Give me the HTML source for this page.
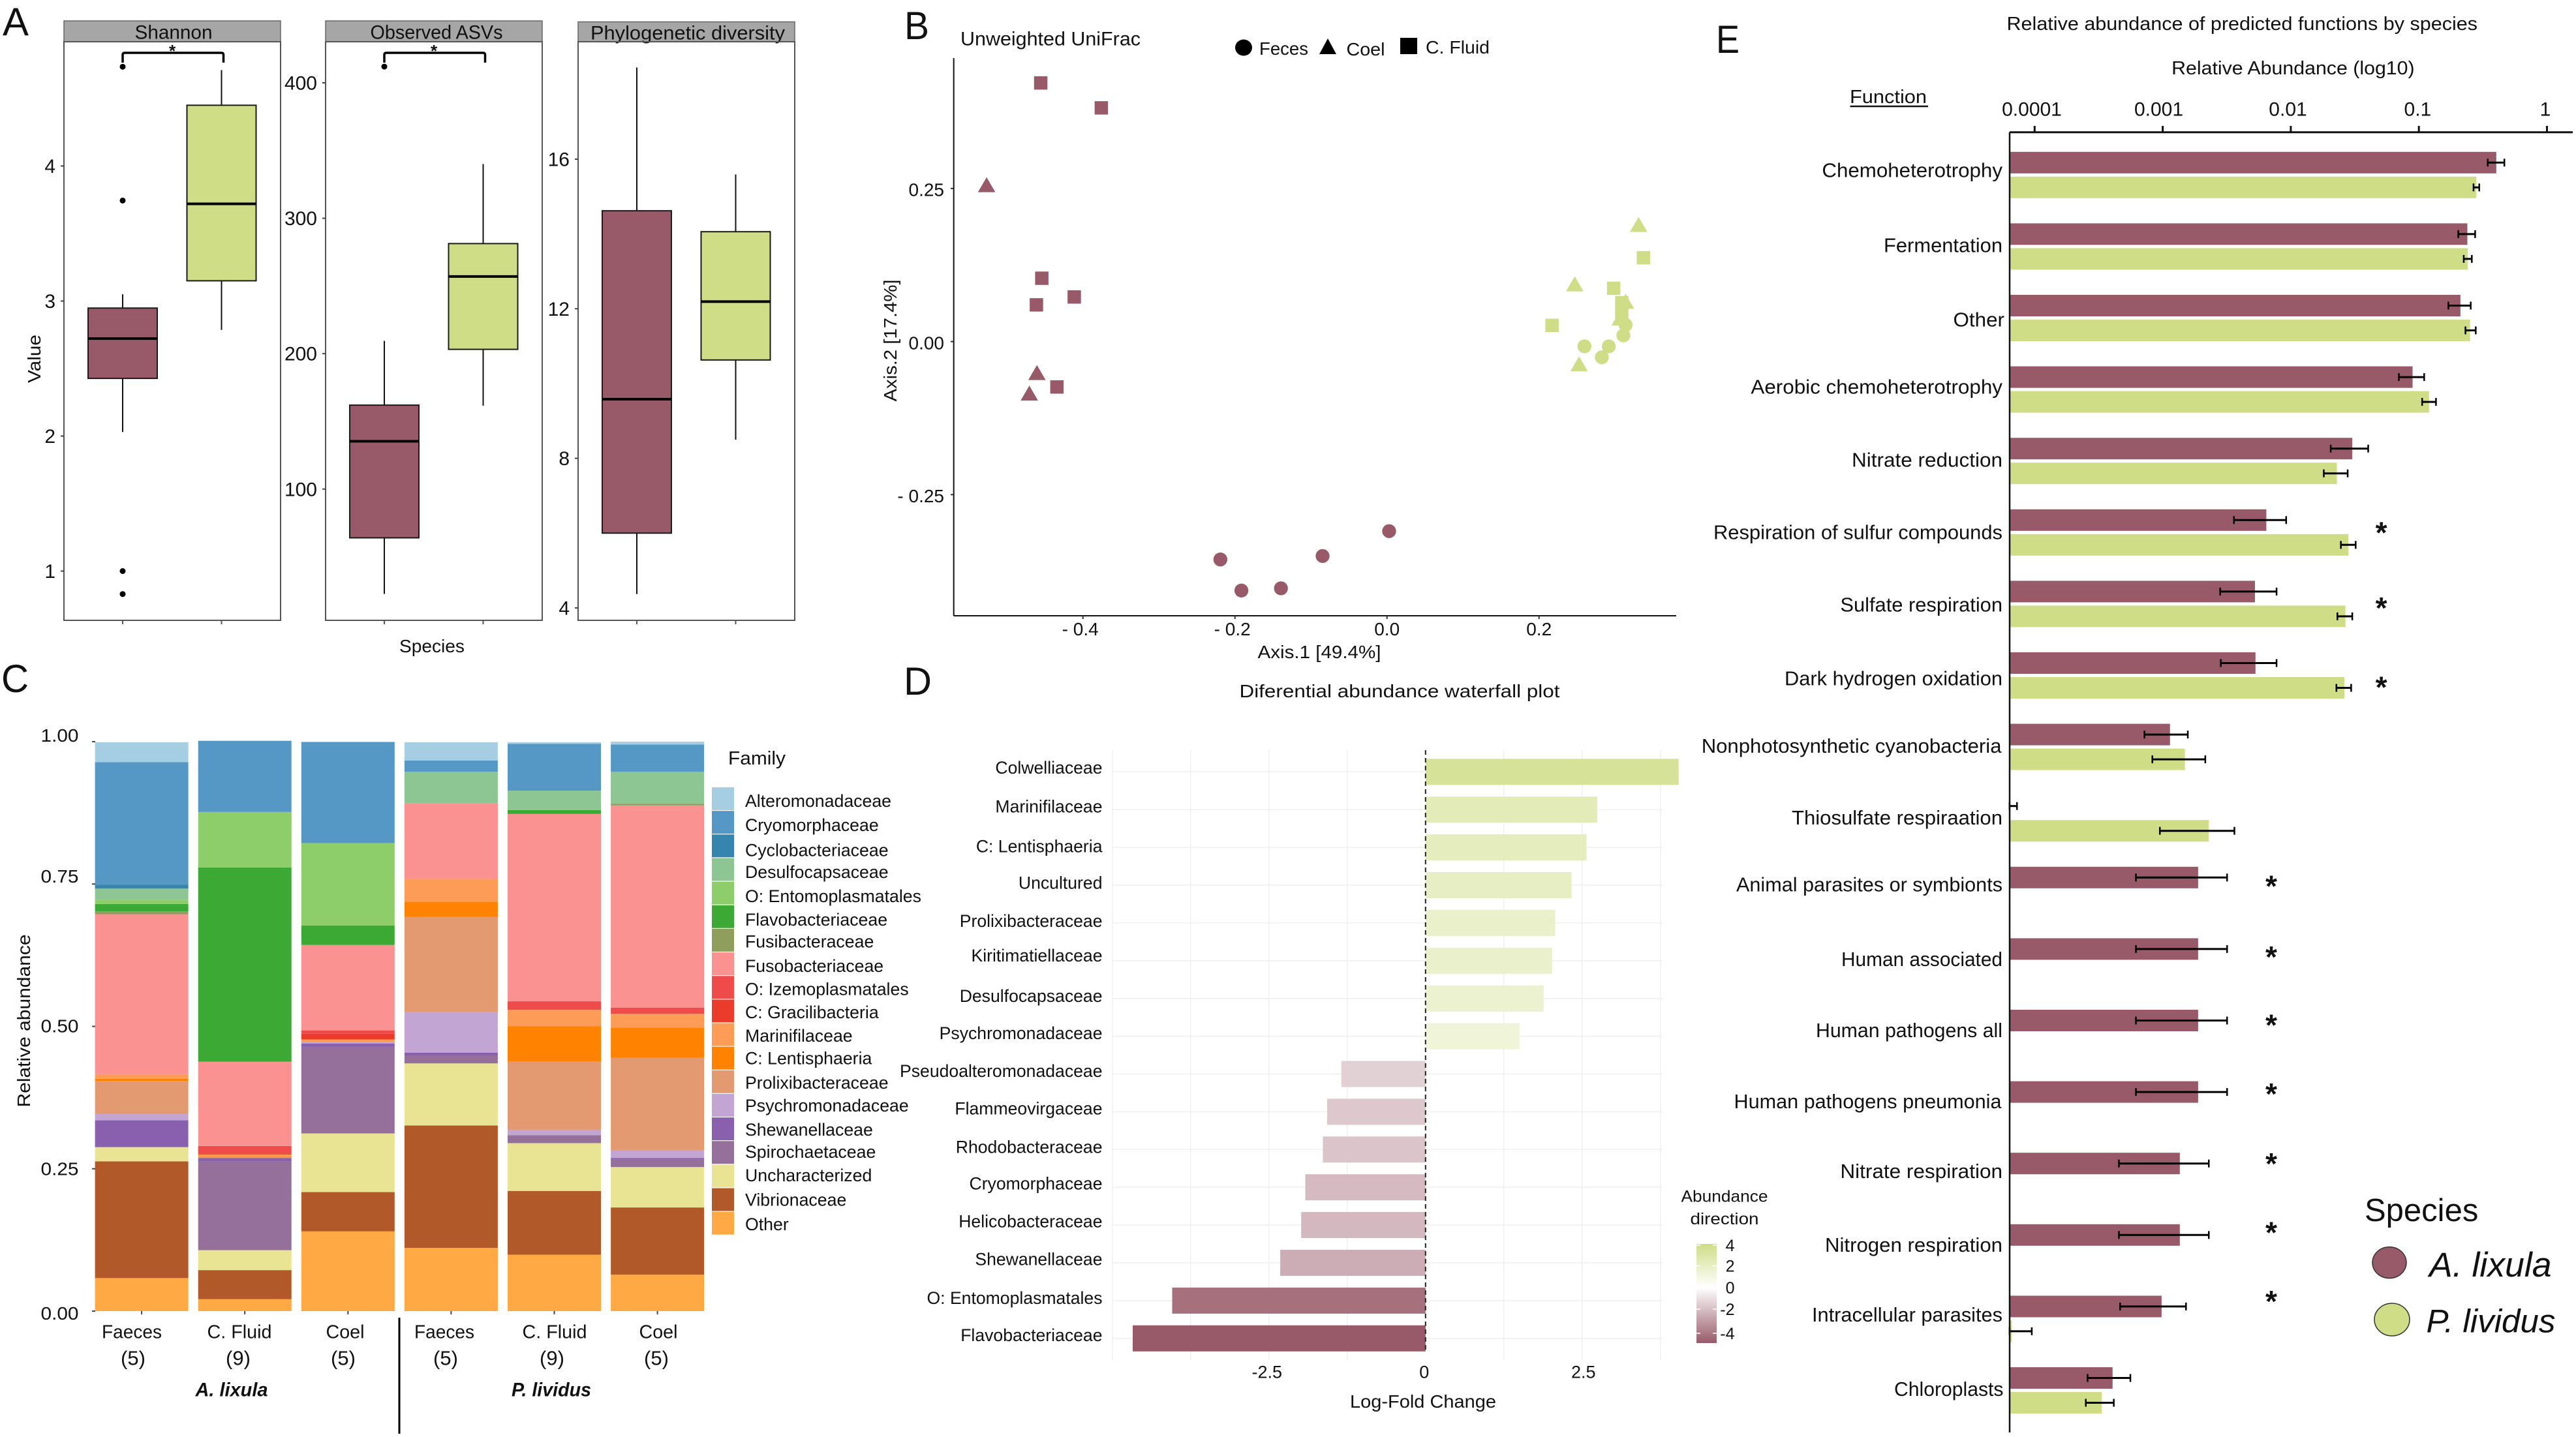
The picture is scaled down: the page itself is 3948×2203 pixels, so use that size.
<!DOCTYPE html>
<html lang="en">
<head>
<meta charset="utf-8">
<title>Microbiome composite figure</title>
<style>
html,body{margin:0;padding:0;background:#fff;}
#figure{display:block;width:3948px;height:2203px;font-family:"Liberation Sans",sans-serif;}
text{font-family:"Liberation Sans",sans-serif;fill:#111;}
</style>
</head>
<body>
<svg id="figure" xmlns="http://www.w3.org/2000/svg" width="3948" height="2203" viewBox="0 0 3948 2203">
<defs>
<linearGradient id="cbar" x1="0" y1="0" x2="0" y2="1">
<stop offset="0" stop-color="#cfdd87"/><stop offset="0.44" stop-color="#ffffff"/><stop offset="1" stop-color="#985a69"/>
</linearGradient>
</defs>
</svg>
<script>
/* ---------- Panel A data: [lower whisker, q1, median, q3, upper whisker] ---------- */
const boxStatNames = ['lowerWhisker','q1','median','q3','upperWhisker'];
const shannonLixula = [2.03,2.427,2.722,2.948,3.05];
const shannonLividus = [2.786,3.15,3.72,4.45,4.71];
const shannonOutliers = [4.735,3.744,1.0,0.83];
const asvLixula = [22.6,64,135.3,162,209.4];
const asvLividus = [161.6,203.2,257,281.3,340];
const asvOutliers = [412];
const pdLixula = [4.37,6.0,9.58,14.62,18.45];
const pdLividus = [8.5,10.63,12.19,14.06,15.59];
const pdOutliers = [];
const shannonTicks = [1,2,3,4];
const asvTicks = [100,200,300,400];
const pdTicks = [4,8,12,16];

/* ---------- Panel B data ---------- */
const lixFecesX = [0.0028,-0.0847,-0.2192,-0.1395,-0.1915];
const lixFecesY = [-0.3096,-0.3502,-0.3559,-0.403,-0.4066];
const lixCoelX = [-0.5267,-0.4605,-0.4705];
const lixCoelY = [0.2561,-0.0506,-0.0842];
const lixFluidX = [-0.4555,-0.3758,-0.4541,-0.4114,-0.4612,-0.4342];
const lixFluidY = [0.4223,0.3816,0.1034,0.0728,0.0599,-0.0742];
const livFecesX = [0.3139,0.311,0.2918,0.2598,0.2826];
const livFecesY = [0.0271,0.01,-0.0078,-0.0078,-0.0257];
const livCoelX = [0.331,0.247,0.3139,0.3068,0.2527];
const livCoelY = [0.1912,0.0942,0.0656,0.0385,-0.0364];
const livFluidX = [0.3374,0.2982,0.3089,0.3089,0.2171];
const livFluidY = [0.1369,0.087,0.0635,0.0478,0.0264];
const pcoaXTicks = [-0.4,-0.2,0.0,0.2];
const pcoaXTickLabels = ['- 0.4','- 0.2','0.0','0.2'];
const pcoaYTicks = [0.25,0,-0.25];
const pcoaYTickLabels = ['0.25','0.00','- 0.25'];

/* ---------- Panel C data (same order as families) ---------- */
const families = ['Alteromonadaceae','Cryomorphaceae','Cyclobacteriaceae','Desulfocapsaceae','O: Entomoplasmatales','Flavobacteriaceae','Fusibacteraceae','Fusobacteriaceae','O: Izemoplasmatales','C: Gracilibacteria','Marinifilaceae','C: Lentisphaeria','Prolixibacteraceae','Psychromonadaceae','Shewanellaceae','Spirochaetaceae','Uncharacterized','Vibrionaceae','Other'];
const lixFaeces = [.035,.215,.007,.020,.007,.013,.005,.281,0,0,.008,.004,.058,.011,.047,0,.025,.205,.058];
const lixCFluid = [0,.125,0,0,.0975,.341,0,.148,.013,.002,.003,.001,.002,0,.006,.156,.035,.051,.021];
const lixCoel = [0,.1775,0,0,.145,.034,0,.150,.006,.010,.005,0,0,.002,.006,.152,.103,.069,.140];
const livFaeces = [.032,.020,0,.055,0,0,0,.133,0,0,.040,.027,.167,.071,.005,.014,.109,.215,.111];
const livCFluid = [.003,.082,0,.034,0,.007,0,.329,.015,0,.029,.062,.120,.009,0,.014,.084,.112,.099];
const livCoel = [.005,.048,0,.056,0,0,.003,.355,.011,0,.024,.053,.163,.013,.003,.013,.071,.118,.064];
const stackedBars = [lixFaeces,lixCFluid,lixCoel,livFaeces,livCFluid,livCoel];
const sampleNames = ['Faeces','C. Fluid','Coel','Faeces','C. Fluid','Coel'];
const sampleCounts = ['(5)','(9)','(5)','(5)','(9)','(5)'];
const abundanceTicks = [0,0.25,0.5,0.75,1];
const abundanceTickLabels = ['0.00','0.25','0.50','0.75','1.00'];

/* ---------- Panel D data ---------- */
const waterfallTaxa = ['Colwelliaceae','Marinifilaceae','C: Lentisphaeria','Uncultured','Prolixibacteraceae','Kiritimatiellaceae','Desulfocapsaceae','Psychromonadaceae','Pseudoalteromonadaceae','Flammeovirgaceae','Rhodobacteraceae','Cryomorphaceae','Helicobacteraceae','Shewanellaceae','O: Entomoplasmatales','Flavobacteriaceae'];
const waterfallValues = [4.04,2.74,2.57,2.33,2.07,2.02,1.885,1.50,-1.345,-1.57,-1.64,-1.92,-1.985,-2.32,-4.045,-4.675];
const waterfallTicks = [-2.5,0,2.5];
const waterfallTickLabels = ['-2.5','0','2.5'];
const waterfallGrid = [-5,-3.75,-2.5,-1.25,1.25,2.5,3.75];
const colorbarTickLabels = ['4','2','0','-2','-4'];

/* ---------- Panel E data ---------- */
const functionNames = ['Chemoheterotrophy','Fermentation','Other','Aerobic chemoheterotrophy','Nitrate reduction','Respiration of sulfur compounds','Sulfate respiration','Dark hydrogen oxidation','Nonphotosynthetic cyanobacteria','Thiosulfate respiraation','Animal parasites or symbionts','Human associated','Human pathogens all','Human pathogens pneumonia','Nitrate respiration','Nitrogen respiration','Intracellular parasites','Chloroplasts'];
const lixMean = [.402,.239,.211,.0893,.0302,.00644,.00525,.0053,.00114,.0000637,.00189,.00189,.00189,.00189,.00136,.00136,.00098,.000406];
const lixErrLo = [.345,.203,.170,.0698,.0205,.0036,.00281,.00284,.00072,.0000637,.000618,.000618,.000618,.000618,.000455,.000455,.000465,.000259];
const lixErrHi = [.465,.275,.254,.110,.0402,.0092,.00774,.00774,.00157,.0000728,.00318,.00318,.00318,.00318,.00229,.00229,.00152,.000559];
const livMean = [.281,.241,.251,.120,.0229,.0281,.0267,.0262,.00149,.00229,null,null,null,null,null,null,.0000664,.000334];
const livErrLo = [.267,.224,.231,.106,.0181,.0246,.0231,.0227,.00083,.00095,null,null,null,null,null,null,.0000637,.000251];
const livErrHi = [.296,.259,.278,.136,.0278,.0321,.0302,.0296,.00215,.00363,null,null,null,null,null,null,.000095,.000415];
const significantFunctions = [0,0,0,0,0,1,1,1,0,0,1,1,1,1,1,1,1,0];
const logTicks = [0.0001,0.001,0.01,0.1,1];
const logTickLabels = ['0.0001','0.001','0.01','0.1','1'];

/* ---------- Styling and layout constants ---------- */
const MAROON = '#985a69', GREEN = '#cfdd87';
const familyColors = ['#a6cee3','#5598c6','#3585ae','#8dc593','#8dcd6a','#3da935','#8f9e5c','#fb9292','#f04b4b','#eb3b2a','#fd9c57','#ff8300','#e49a71','#c3a5d4','#8860ae','#94709b','#e9e394','#b15928','#ffa944'];

const svg = document.getElementById('figure');
const NS = 'http://www.w3.org/2000/svg';

function draw(tag, attrs, name, interactable) {
  const el = document.createElementNS(NS, tag);
  for (const k in attrs) el.setAttribute(k, attrs[k]);
  
  
  svg.appendChild(el);
  return el;
}
function line(x1, y1, x2, y2, stroke, width, name, extra) {
  return draw('line', Object.assign({x1, y1, x2, y2, stroke, 'stroke-width': width}, extra || {}), name);
}
function rect(x, y, w, h, fill, name, extra) {
  return draw('rect', Object.assign({x, y, width: w, height: h, fill}, extra || {}), name);
}
function label(str, x, cy, size, name, o) {
  o = o || {};
  const a = {x, y: cy + size * 0.35, 'font-size': size, 'text-anchor': o.anchor || 'start'};
  if (o.rot) a.transform = 'rotate(' + o.rot + ' ' + x + ' ' + cy + ')';
  if (o.w) { a.textLength = o.w; a.lengthAdjust = 'spacingAndGlyphs'; }
  if (o.weight) a['font-weight'] = o.weight;
  if (o.italic) a['font-style'] = 'italic';
  const t = draw('text', a, name);
  t.textContent = str;
  return t;
}
function star(x, cy, size, name) {
  const t = draw('text', {x, y: cy + size * 0.47, 'font-size': size, 'font-weight': 'bold', 'text-anchor': 'middle'}, name);
  t.textContent = '*';
}
function panelLetter(str, x, base, w, name) {
  const t = draw('text', {x, y: base, 'font-size': 60, textLength: w, lengthAdjust: 'spacingAndGlyphs'}, name);
  t.textContent = str;
}

/* ---------- Panel A ---------- */
panelLetter('A', 4, 54, 40, 'panel-a-label');
function boxPanel(cfg) {
  const L = cfg.left, R = cfg.left + 332, T = 64, B = 951;
  const y = v => cfg.y0 + (v - cfg.v0) * cfg.k;
  const x = i => L + 90 + 151.5 * i;
  rect(L, cfg.stripTop, 332, T - cfg.stripTop, '#a6a6a6', cfg.id + '-strip', {stroke: '#666', 'stroke-width': 1.5});
  label(cfg.title, L + cfg.titleDx, (cfg.stripTop + T) / 2 + 1, 30, cfg.id + '-title', {anchor: 'middle', w: cfg.titleW});
  [cfg.lix, cfg.liv].forEach((s, i) => {
    const nm = cfg.id + (i ? '-lividus' : '-lixula');
    const [lo, q1, med, q3, hi] = s;
    line(x(i), y(hi), x(i), y(lo), '#111', 2, nm + '-whisker');
    rect(x(i) - 53, y(q3), 106, y(q1) - y(q3), i ? GREEN : MAROON, nm + '-box', {stroke: '#1a1a1a', 'stroke-width': 2});
    line(x(i) - 53, y(med), x(i) + 53, y(med), '#000', 4, nm + '-median');
    line(x(i), B, x(i), B + 6, '#555', 2, nm + '-x-tick');
  });
  cfg.out.forEach(v => draw('circle', {cx: x(0), cy: y(v), r: 4.5, fill: '#000'}, cfg.id + '-outlier'));
  rect(L, T, 332, B - T, 'none', cfg.id + '-frame', {stroke: '#555', 'stroke-width': 2});
  cfg.ticks.forEach(v => {
    line(L - 5, y(v), L, y(v), '#444', 2, cfg.id + '-y-tick');
    label(String(v), L - 13, y(v), 30, cfg.id + '-y-tick-label', {anchor: 'end'});
  });
  if (cfg.sig) {
    draw('path', {d: 'M' + x(0) + ' 96 V84 Q' + x(0) + ' 81 ' + (x(0) + 3) + ' 81 H' + x(1) + ' Q' + (x(1) + 3) + ' 81 ' + (x(1) + 3) + ' 84 V96', fill: 'none', stroke: '#000', 'stroke-width': 3.5}, cfg.id + '-significance-bracket');
    star(x(0) + 76, 75, 26, cfg.id + '-significance-star');
  }
}
boxPanel({id: 'shannon', title: 'Shannon', titleDx: 168, titleW: 119, left: 98, stripTop: 32, lix: shannonLixula, liv: shannonLividus, out: shannonOutliers, ticks: shannonTicks, y0: 254.5, v0: 4, k: -207, sig: true});
boxPanel({id: 'observed-asvs', title: 'Observed ASVs', titleDx: 170, titleW: 203, left: 499, stripTop: 32, lix: asvLixula, liv: asvLividus, out: asvOutliers, ticks: asvTicks, y0: 127, v0: 400, k: -2.076, sig: true});
boxPanel({id: 'phylogenetic-diversity', title: 'Phylogenetic diversity', titleDx: 168, titleW: 298, left: 886, stripTop: 33.5, lix: pdLixula, liv: pdLividus, out: pdOutliers, ticks: pdTicks, y0: 244, v0: 16, k: -57.33, sig: false});
label('Value', 52, 550, 28, 'alpha-y-axis-title', {anchor: 'middle', rot: -90, w: 74});
label('Species', 662, 990, 28, 'alpha-x-axis-title', {anchor: 'middle', w: 100});

/* ---------- Panel B ---------- */
panelLetter('B', 1386, 60, 38, 'panel-b-label');
const pcoaX = v => 2125.7 + 1165 * v;
const pcoaY = v => 523.6 - 938.8 * v;
function marker(shape, cx, cy, s, fill, name) {
  if (shape === 'circle') draw('circle', {cx, cy, r: s * 0.52, fill}, name);
  else if (shape === 'square') rect(cx - s / 2, cy - s / 2, s, s, fill, name);
  else draw('polygon', {points: (cx - s * 0.65) + ',' + (cy + s * 0.56) + ' ' + cx + ',' + (cy - s * 0.56) + ' ' + (cx + s * 0.65) + ',' + (cy + s * 0.56), fill}, name);
}
function scatter(xs, ys, shape, fill, name) {
  xs.forEach((v, i) => marker(shape, pcoaX(v), pcoaY(ys[i]), 20.5, fill, name));
}
line(1461.7, 89, 1461.7, 944, '#111', 2, 'pcoa-y-axis');
line(1461.7, 944, 2569, 944, '#111', 2, 'pcoa-x-axis');
pcoaXTicks.forEach((v, i) => {
  line(pcoaX(v), 944, pcoaX(v), 949, '#333', 2, 'pcoa-x-tick');
  label(pcoaXTickLabels[i], pcoaX(v) + (v < 0 ? -4 : 0), 964, 28, 'pcoa-x-tick-label', {anchor: 'middle'});
});
pcoaYTicks.forEach((v, i) => {
  line(1457, pcoaY(v), 1461, pcoaY(v), '#333', 2, 'pcoa-y-tick');
  label(pcoaYTickLabels[i], 1447, pcoaY(v) + 2, 28, 'pcoa-y-tick-label', {anchor: 'end'});
});
scatter(lixFluidX, lixFluidY, 'square', MAROON, 'lixula-fluid-point');
scatter(lixCoelX, lixCoelY, 'triangle', MAROON, 'lixula-coel-point');
scatter(lixFecesX, lixFecesY, 'circle', MAROON, 'lixula-feces-point');
scatter(livCoelX, livCoelY, 'triangle', GREEN, 'lividus-coel-point');
scatter(livFluidX, livFluidY, 'square', GREEN, 'lividus-fluid-point');
scatter(livFecesX, livFecesY, 'circle', GREEN, 'lividus-feces-point');
label('Unweighted UniFrac', 1472, 59, 30, 'pcoa-title', {w: 276});
label('Axis.1 [49.4%]', 2022, 999, 28, 'pcoa-x-axis-title', {anchor: 'middle', w: 189});
label('Axis.2 [17.4%]', 1364, 522, 28, 'pcoa-y-axis-title', {anchor: 'middle', rot: -90, w: 187});
draw('ellipse', {cx: 1906, cy: 73, rx: 13, ry: 12.5, fill: '#000'}, 'legend-feces-symbol');
label('Feces', 1930, 74, 28, 'legend-feces-label', {w: 75});
draw('polygon', {points: '2022,83 2035,59 2048,83', fill: '#000'}, 'legend-coel-symbol');
label('Coel', 2063.5, 75, 28, 'legend-coel-label', {w: 59});
rect(2146, 58, 26, 25, '#000', 'legend-fluid-symbol');
label('C. Fluid', 2185, 72, 28, 'legend-fluid-label', {w: 98});

/* ---------- Panel C ---------- */
panelLetter('C', 2, 1061, 42, 'panel-c-label');
const stackX = i => 145.6 + 158.1 * i;
const stackY = v => 2010 - 873 * v;
stackedBars.forEach((bar, b) => {
  let cum = 0;
  for (let f = families.length - 1; f >= 0; f--) {
    const v = bar[f];
    if (v > 0) rect(stackX(b), stackY(cum + v), 143, stackY(cum) - stackY(cum + v), familyColors[f], 'stack-segment-' + b + '-' + f);
    cum += v;
  }
  line(stackX(b) + 71.5, 2010, stackX(b) + 71.5, 2015, '#444', 2, 'stack-x-tick');
});
const stackTickNudge = [3, 0, -1, -12, -10];
abundanceTicks.forEach((v, i) => {
  line(141, stackY(v), 146, stackY(v), '#444', 2, 'stack-y-tick');
  label(abundanceTickLabels[i], 120.5, stackY(v) + stackTickNudge[i], 28, 'stack-y-tick-label', {anchor: 'end', w: 58});
});
label('Relative abundance', 36, 1565, 28, 'stack-y-axis-title', {anchor: 'middle', rot: -90, w: 265});
const sampleLabelX = [202, 367, 529, 681, 850, 1009];
const sampleLabelW = [92, 99, 59, 92, 99, 59];
const countLabelX = [204, 365, 526, 683, 846, 1006];
sampleNames.forEach((s, i) => {
  label(s, sampleLabelX[i], 2041.5, 29, 'stack-sample-label', {anchor: 'middle', w: sampleLabelW[i]});
  label(sampleCounts[i], countLabelX[i], 2081.5, 31, 'stack-sample-count', {anchor: 'middle'});
});
label('A. lixula', 355, 2130, 30, 'species-label-lixula', {anchor: 'middle', w: 111, weight: 'bold', italic: true});
label('P. lividus', 845, 2130, 30, 'species-label-lividus', {anchor: 'middle', w: 122, weight: 'bold', italic: true});
line(612, 2020, 612, 2198, '#000', 3, 'species-divider');
label('Family', 1116, 1162, 29, 'family-legend-title', {w: 88});
const familyLabelY = [1227.8, 1264.6, 1303, 1336.7, 1373.5, 1409.6, 1443.3, 1480.9, 1516.2, 1551.5, 1587.5, 1622, 1659.6, 1694.9, 1731.7, 1765.5, 1801.5, 1839, 1876.7];
families.forEach((f, i) => {
  rect(1091, 1207 + 36.15 * i, 34, 35, familyColors[i], 'family-swatch');
  label(f, 1142, familyLabelY[i], 26.7, 'family-label');
});

/* ---------- Panel D ---------- */
panelLetter('D', 1385, 1065, 43, 'panel-d-label');
const wfX = v => 2184.8 + 96 * v;
const wfRow = i => 1183.3 + 57.9 * i;
const maxAbs = Math.max(...waterfallValues.map(Math.abs));
function mix(hex, t) {
  const c = [1, 3, 5].map(p => parseInt(hex.substr(p, 2), 16));
  return 'rgb(' + c.map(v => Math.round(255 + (v - 255) * t)).join(',') + ')';
}
waterfallGrid.forEach(v => line(wfX(v), 1150, wfX(v), 2085, '#efefef', 1.5, 'waterfall-gridline-vertical'));
waterfallTaxa.forEach((t, i) => line(1705, wfRow(i), 2548, wfRow(i), '#efefef', 1.5, 'waterfall-gridline-horizontal'));
const wfLabelNudge = [-6.5, -5, -2, -4, -3, -8, -4, -5, -5, -5, -4, -6, -6, -6, -4, -5];
waterfallTaxa.forEach((t, i) => {
  const v = waterfallValues[i];
  const x0 = Math.min(wfX(0), wfX(v));
  rect(x0, wfRow(i) - 20, Math.abs(wfX(v) - wfX(0)), 40, mix(v >= 0 ? GREEN : MAROON, Math.abs(v) / maxAbs), 'waterfall-bar');
  label(t, 1689.5, wfRow(i) + wfLabelNudge[i], 26.6, 'waterfall-taxon-label', {anchor: 'end'});
});
line(wfX(0), 1150, wfX(0), 2074, '#222', 2, 'waterfall-zero-line', {'stroke-dasharray': '7 5'});
waterfallTicks.forEach((v, i) => label(waterfallTickLabels[i], wfX(v) + (v < 0 ? -3 : v > 0 ? 2 : -2), 2103, 27, 'waterfall-x-tick-label', {anchor: 'middle'}));
label('Diferential abundance waterfall plot', 2145, 1059, 28, 'waterfall-title', {anchor: 'middle', w: 491});
label('Log-Fold Change', 2181, 2148, 28, 'waterfall-x-axis-title', {anchor: 'middle', w: 224});
label('Abundance', 2643, 1833.5, 25, 'colorbar-title-line-1', {anchor: 'middle', w: 133});
label('direction', 2643, 1868, 25, 'colorbar-title-line-2', {anchor: 'middle', w: 105});
rect(2600, 1907, 31, 152, 'url(#cbar)', 'colorbar');
const colorbarLabelY = [1909, 1940.6, 1974, 2007, 2044];
colorbarTickLabels.forEach((s, i) => {
  line(2600, colorbarLabelY[i], 2606, colorbarLabelY[i], '#fff', 1.5, 'colorbar-tick-left');
  line(2625, colorbarLabelY[i], 2631, colorbarLabelY[i], '#fff', 1.5, 'colorbar-tick-right');
  label(s, 2658.5, colorbarLabelY[i], 25, 'colorbar-tick-label', {anchor: 'end'});
});

/* ---------- Panel E ---------- */
panelLetter('E', 2630, 81, 36, 'panel-e-label');
const logX = v => 3118.3 + 196.3 * (Math.log10(v) + 4);
const rowTop = i => 232.8 + 109.6 * i;
const AXIS_X = 3080;
const fnLabelOffset = [27.8, 33, 37.8, 31, 33.5, 34.6, 36.4, 39.6, 33.3, 34, 27, 31.6, 31, 30.4, 27.8, 31.2, 28.6, 33];
const fnLabelWidth = [276.6, 182, 78.5, 385.6, 231, 443, 248.6, 334, 459.8, 323, 408, 247, 286, 410, 248.6, 272, 292, 167.5];
const fnLabelNudge = [0, 0, 3, 0, 0, 0, 0, 0, -1.5, 0, 0, 0, 0, -1.5, 0, 0, 0, 1.5];
const fnStarOffset = {5: 30, 6: 36, 7: 48, 10: 24, 11: 23, 12: 18, 13: 14, 14: 11, 15: 7, 16: 3};
function errorBar(lo, hi, cy, name) {
  line(logX(lo), cy, logX(hi), cy, '#000', 3, name + '-line');
  line(logX(lo), cy - 6, logX(lo), cy + 6, '#000', 2.5, name + '-cap-low');
  line(logX(hi), cy - 6, logX(hi), cy + 6, '#000', 2.5, name + '-cap-high');
}
functionNames.forEach((f, i) => {
  const t = rowTop(i);
  if (lixMean[i] > 0.000064) rect(AXIS_X, t, logX(lixMean[i]) - AXIS_X, 33, MAROON, 'function-bar-lixula');
  errorBar(lixErrLo[i], lixErrHi[i], t + 16.5, 'function-error-lixula');
  if (livMean[i] !== null) {
    rect(AXIS_X, t + 38, logX(livMean[i]) - AXIS_X, 33, GREEN, 'function-bar-lividus');
    errorBar(livErrLo[i], livErrHi[i], t + 54.5, 'function-error-lividus');
  }
  label(f, 3069 + fnLabelNudge[i], t + fnLabelOffset[i], 31, 'function-label', {anchor: 'end', w: fnLabelWidth[i]});
  if (significantFunctions[i]) star(i < 8 ? 3649.6 : 3481, t + fnStarOffset[i], 46, 'function-significance-star');
});
line(AXIS_X, 202.8, 3943, 202.8, '#111', 3, 'function-top-axis');
line(AXIS_X, 202.8, AXIS_X, 2196, '#111', 2.5, 'function-y-axis');
const logLabelX = [3114, 3308.5, 3506.5, 3705.4, 3901];
logTicks.forEach((v, i) => {
  line(logX(v), 193, logX(v), 203, '#111', 3, 'function-x-tick');
  label(logTickLabels[i], logLabelX[i], 167, 30, 'function-x-tick-label', {anchor: 'middle'});
});
label('Relative abundance of predicted functions by species', 3075.5, 36, 29, 'function-title', {w: 721.5});
label('Relative Abundance (log10)', 3514.4, 104, 29, 'function-axis-title', {anchor: 'middle', w: 372.5});
label('Function', 2894, 148, 29, 'function-column-title', {anchor: 'middle', w: 118});
line(2835.5, 163, 2955, 163, '#111', 2.5, 'function-column-underline');
label('Species', 3624, 1855, 49, 'species-legend-title');
draw('ellipse', {cx: 3662, cy: 1935.6, rx: 26, ry: 24, fill: MAROON, stroke: '#333', 'stroke-width': 1.5}, 'species-legend-lixula-swatch');
label('A. lixula', 3723, 1938.5, 53, 'species-legend-lixula-label', {italic: true, w: 187.6});
draw('ellipse', {cx: 3666, cy: 2023, rx: 27, ry: 25, fill: GREEN, stroke: '#333', 'stroke-width': 1.5}, 'species-legend-lividus-swatch');
label('P. lividus', 3718.5, 2025, 50, 'species-legend-lividus-label', {italic: true, w: 198});
</script>
</body>
</html>
